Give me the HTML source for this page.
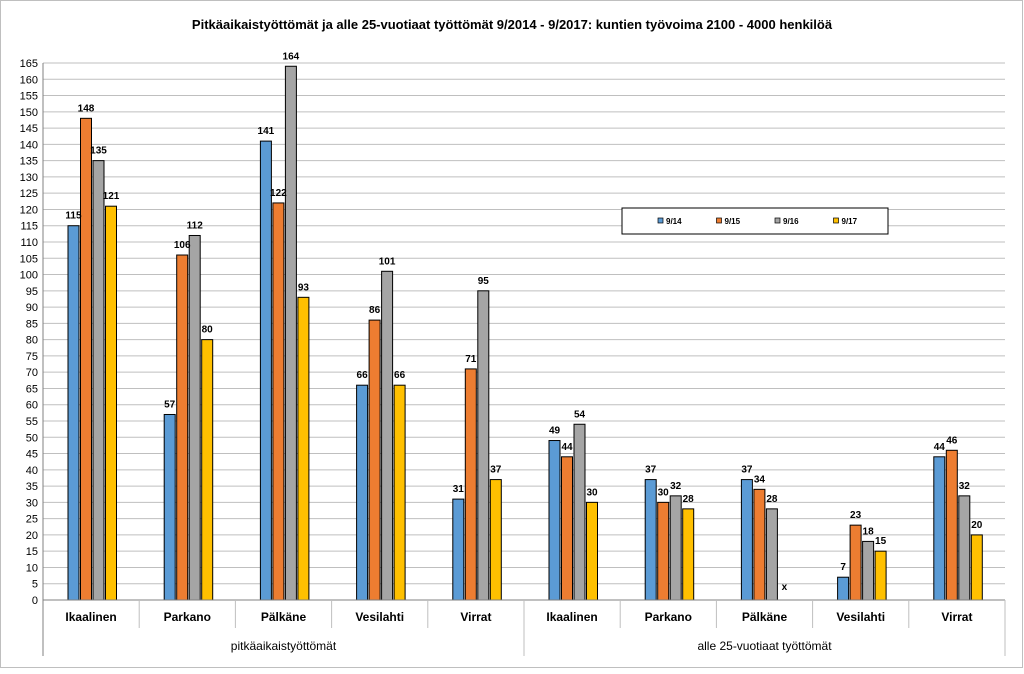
<!DOCTYPE html>
<html><head><meta charset="utf-8"><style>
body{margin:0;background:#fff;}
svg text{font-family:"Liberation Sans",sans-serif;}
</style></head><body>
<svg width="1024" height="669" xmlns="http://www.w3.org/2000/svg" id="chart">
<rect x="0.5" y="0.5" width="1022" height="667" fill="#fff" stroke="#bfbfbf"/>
<text x="512" y="29" text-anchor="middle" font-size="13" font-weight="bold">Pitkäaikaistyöttömät ja alle 25-vuotiaat työttömät 9/2014 - 9/2017: kuntien työvoima 2100 - 4000 henkilöä</text>
<g id="grid"></g><g id="bars"></g><g id="labels"></g><g id="axes"></g>
<g id="legend">
<rect x="622" y="208" width="266" height="26" fill="#fff" stroke="#000" stroke-width="1"/>
</g>
</svg>
<script>
const categories=["Ikaalinen","Parkano","Pälkäne","Vesilahti","Virrat","Ikaalinen","Parkano","Pälkäne","Vesilahti","Virrat"];
const groups=["pitkäaikaistyöttömät","alle 25-vuotiaat työttömät"];
const seriesNames=["9/14","9/15","9/16","9/17"];
const s914=[115,57,141,66,31,49,37,37,7,44];
const s915=[148,106,122,86,71,44,30,34,23,46];
const s916=[135,112,164,101,95,54,32,28,18,32];
const s917=[121,80,93,66,37,30,28,null,15,20];
const yTicks=[0,5,10,15,20,25,30,35,40,45,50,55,60,65,70,75,80,85,90,95,100,105,110,115,120,125,130,135,140,145,150,155,160,165];
const colors=["#5b9bd5","#ed7d31","#a5a5a5","#ffc000"];
const series=[s914,s915,s916,s917];
const NS="http://www.w3.org/2000/svg";
const X0=43,X1=1005,Y0=600,Y1=63,YMAX=165;
const y=v=>Y0-(v/YMAX)*(Y0-Y1);
const gw=(X1-X0)/categories.length;
const x=(i,s)=>X0+i*gw+25+s*12.5;
function mk(t,a,p){const e=document.createElementNS(NS,t);for(const k in a)e.setAttribute(k,a[k]);document.getElementById(p).appendChild(e);return e;}
yTicks.forEach(t=>{
 const l=mk("line",{x1:X0,x2:X1,y1:y(t),y2:y(t),stroke:"#bfbfbf","stroke-width":1},"grid");
 
 
 const tx=mk("text",{x:X0-5,y:y(t)+4,"text-anchor":"end","font-size":"11"},"axes");
 tx.textContent=t;
 
 
});
series.forEach((arr,s)=>arr.forEach((v,i)=>{
 if(v===null){
  const tx=mk("text",{x:x(i,s)+5.5,y:y(0)-10,"text-anchor":"middle","font-size":"10","font-weight":"bold"},"labels");
  tx.textContent="x";
  
  
  return;}
 const r=mk("rect",{x:x(i,s),y:y(v),width:11,height:y(0)-y(v),fill:colors[s],stroke:"#000","stroke-width":1},"bars");
 
 
 const tx=mk("text",{x:x(i,s)+5.5,y:y(v)-7,"text-anchor":"middle","font-size":"10","font-weight":"bold"},"labels");
 tx.textContent=v;
 
 
}));
const ax=mk("line",{x1:X0,x2:X0,y1:Y1,y2:656,stroke:"#808080"},"axes");


const bx=mk("line",{x1:X0,x2:X1,y1:Y0,y2:Y0,stroke:"#808080"},"axes");


for(let i=1;i<=categories.length;i++){
 const big=(i===5||i===10);
 const l=mk("line",{x1:X0+i*gw,x2:X0+i*gw,y1:Y0,y2:big?656:628,stroke:"#bfbfbf"},"axes");
 
 
}
categories.forEach((c,i)=>{
 const tx=mk("text",{x:X0+(i+0.5)*gw,y:621,"text-anchor":"middle","font-size":"12","font-weight":"bold"},"axes");
 tx.textContent=c;
 
 
});
groups.forEach((g,i)=>{
 const tx=mk("text",{x:X0+(i*5+2.5)*gw,y:650,"text-anchor":"middle","font-size":"12"},"axes");
 tx.textContent=g;
 
 
});
seriesNames.forEach((n,s)=>{
 const lx=658+s*58.5;
 const r=mk("rect",{x:lx,y:218,width:5,height:5,fill:colors[s],stroke:"#000","stroke-width":0.7},"legend");
 
 
 const tx=mk("text",{x:lx+8,y:224,"font-size":"8","font-weight":"bold"},"legend");
 tx.textContent=n;
 
 
});
</script>
</body></html>
